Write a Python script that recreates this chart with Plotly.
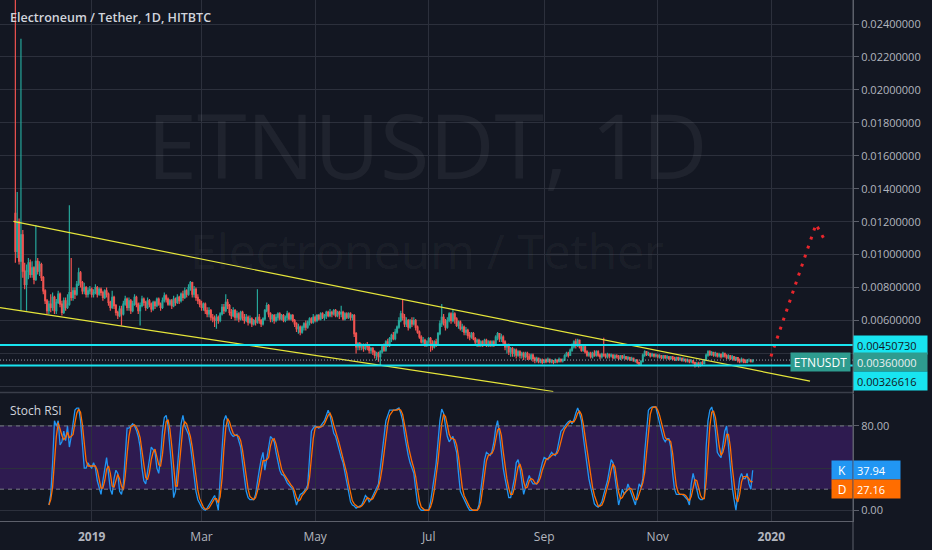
import pandas as pd
import plotly.graph_objects as go

# ---------------- data ----------------
title_text = "Electroneum / Tether, 1D, HITBTC"
symbol = "ETNUSDT"
start_date = "2018-11-21"
price_unit = 1e-5          # prices below are in units of 0.00001 USDT

first_open_e5 = 1250
close_e5 = [
    1020, 1200, 960, 1120, 900, 820, 900, 950, 880, 920,
    850, 960, 900, 940, 860, 780, 720, 660, 700, 680,
    740, 660, 710, 760, 700, 650, 720, 680, 700, 770,
    740, 780, 760, 820, 890, 830, 780, 800, 760, 780,
    790, 760, 770, 800, 760, 790, 770, 740, 780, 760,
    710, 680, 740, 690, 650, 630, 670, 640, 700, 730,
    680, 720, 660, 700, 740, 700, 660, 690, 730, 710,
    680, 720, 700, 670, 710, 690, 730, 700, 680, 720,
    750, 730, 700, 720, 690, 730, 710, 740, 720, 760,
    740, 780, 760, 800, 830, 760, 790, 740, 720, 700,
    680, 700, 660, 640, 660, 620, 610, 600, 620, 600,
    640, 680, 660, 710, 690, 650, 630, 660, 620, 640,
    610, 650, 620, 600, 620, 590, 610, 580, 600, 590,
    620, 600, 580, 610, 660, 690, 640, 610, 630, 600,
    620, 640, 610, 630, 600, 620, 640, 610, 630, 600,
    580, 550, 560, 530, 560, 580, 560, 590, 610, 590,
    620, 600, 630, 610, 640, 620, 630, 650, 630, 650,
    640, 660, 630, 650, 640, 650, 610, 640, 620, 640,
    620, 630, 520, 440, 460, 440, 450, 430, 450, 440,
    420, 430, 410, 390, 400, 380, 410, 440, 420, 470,
    450, 490, 510, 490, 530, 560, 600, 640, 620, 580,
    600, 560, 600, 580, 600, 560, 530, 500, 470, 480,
    450, 470, 490, 460, 440, 470, 460, 520, 580, 620,
    590, 560, 600, 640, 600, 640, 610, 570, 590, 550,
    560, 530, 540, 510, 500, 520, 490, 470, 480, 450,
    470, 460, 480, 460, 470, 450, 470, 460, 500, 520,
    490, 500, 470, 440, 450, 410, 430, 400, 420, 390,
    410, 390, 400, 380, 400, 380, 370, 390, 370, 360,
    370, 350, 360, 345, 360, 350, 365, 350, 355, 345,
    360, 350, 365, 355, 360, 385, 400, 390, 420, 440,
    470, 450, 480, 440, 420, 440, 410, 390, 400, 380,
    400, 390, 410, 390, 380, 395, 390, 380, 395, 385,
    390, 375, 385, 380, 370, 385, 375, 380, 370, 375,
    365, 370, 355, 360, 345, 335, 350, 390, 410, 395,
    400, 385, 395, 385, 390, 380, 385, 375, 385, 375,
    380, 370, 380, 370, 365, 375, 365, 370, 360, 365,
    355, 360, 350, 355, 345, 330, 340, 330, 345, 340,
    360, 390, 410, 395, 405, 390, 400, 385, 395, 380,
    400, 385, 375, 385, 370, 380, 365, 375, 360, 350,
    365, 355, 345, 360, 360, 350, 360,
]
high_e5 = [
    2600, 1380, 1220, 2310, 1150, 950, 940, 980, 970, 960,
    930, 1180, 980, 960, 950, 870, 790, 730, 720, 760,
    770, 750, 730, 780, 770, 720, 740, 740, 760, 1300,
    980, 800, 800, 840, 920, 900, 840, 830, 810, 800,
    810, 800, 790, 820, 810, 800, 800, 780, 790, 800,
    770, 720, 780, 750, 700, 660, 690, 690, 720, 750,
    740, 740, 730, 720, 760, 750, 710, 710, 750, 740,
    720, 740, 730, 710, 720, 720, 740, 740, 710, 740,
    770, 760, 740, 730, 730, 750, 740, 760, 750, 770,
    780, 800, 790, 820, 840, 835, 810, 800, 760, 730,
    720, 710, 710, 680, 680, 670, 640, 630, 640, 630,
    650, 700, 700, 760, 730, 700, 670, 680, 670, 660,
    650, 660, 660, 640, 640, 630, 630, 620, 610, 620,
    790, 640, 610, 620, 670, 710, 700, 650, 640, 640,
    640, 650, 650, 640, 640, 630, 660, 650, 640, 640,
    610, 590, 580, 570, 570, 590, 600, 600, 620, 620,
    640, 630, 640, 640, 650, 650, 640, 660, 660, 670,
    660, 670, 670, 660, 660, 690, 660, 650, 650, 650,
    650, 640, 640, 530, 470, 470, 460, 460, 460, 470,
    450, 440, 440, 420, 410, 410, 420, 450, 460, 480,
    490, 500, 520, 530, 550, 570, 620, 660, 730, 640,
    620, 610, 610, 620, 620, 610, 570, 540, 510, 500,
    490, 480, 500, 500, 480, 480, 490, 530, 600, 700,
    640, 610, 620, 650, 650, 670, 650, 620, 600, 600,
    580, 570, 560, 550, 530, 530, 530, 500, 490, 490,
    480, 480, 490, 490, 480, 480, 480, 480, 510, 530,
    520, 520, 510, 480, 460, 460, 440, 440, 430, 430,
    420, 420, 410, 410, 410, 410, 400, 400, 400, 380,
    380, 375, 370, 370, 365, 370, 375, 370, 365, 360,
    370, 365, 375, 370, 370, 395, 410, 410, 430, 460,
    480, 490, 490, 485, 450, 450, 450, 420, 410, 410,
    410, 420, 420, 420, 400, 405, 495, 400, 405, 400,
    400, 395, 395, 395, 390, 390, 390, 395, 385, 385,
    380, 380, 375, 365, 365, 350, 360, 400, 420, 415,
    410, 405, 405, 400, 400, 395, 395, 390, 390, 390,
    390, 385, 385, 385, 380, 380, 380, 380, 375, 375,
    370, 370, 365, 365, 360, 350, 350, 350, 350, 355,
    365, 400, 420, 420, 415, 410, 410, 405, 405, 400,
    410, 405, 395, 395, 390, 390, 385, 380, 375, 370,
    375, 370, 365, 365, 370, 365, 365,
]
low_e5 = [
    950, 980, 940, 660, 860, 790, 660, 850, 860, 860,
    820, 840, 880, 870, 840, 760, 700, 640, 640, 650,
    660, 640, 640, 700, 680, 630, 640, 660, 670, 690,
    720, 720, 730, 750, 810, 800, 760, 760, 740, 740,
    760, 740, 740, 760, 740, 750, 750, 720, 730, 740,
    690, 660, 670, 670, 630, 610, 620, 570, 630, 690,
    660, 660, 640, 650, 690, 680, 640, 570, 680, 690,
    660, 670, 680, 650, 660, 670, 680, 690, 660, 670,
    710, 710, 690, 690, 670, 680, 690, 700, 700, 710,
    720, 730, 740, 750, 780, 740, 740, 720, 700, 680,
    660, 660, 640, 620, 620, 600, 590, 560, 550, 580,
    590, 630, 640, 650, 670, 630, 610, 620, 600, 600,
    590, 600, 600, 580, 590, 570, 580, 560, 570, 570,
    580, 580, 560, 570, 600, 650, 620, 590, 590, 580,
    590, 600, 600, 600, 590, 590, 600, 600, 600, 590,
    560, 530, 520, 510, 520, 540, 540, 550, 570, 580,
    580, 590, 590, 600, 600, 610, 600, 610, 620, 620,
    620, 630, 620, 620, 610, 620, 600, 600, 610, 610,
    600, 600, 500, 400, 420, 420, 420, 410, 420, 420,
    400, 400, 390, 370, 360, 350, 327, 400, 410, 410,
    440, 440, 470, 480, 480, 520, 550, 590, 600, 560,
    560, 540, 550, 560, 570, 540, 520, 490, 460, 450,
    440, 440, 450, 410, 420, 430, 440, 450, 510, 560,
    570, 540, 550, 590, 580, 590, 580, 560, 550, 540,
    530, 510, 510, 490, 480, 490, 480, 450, 440, 440,
    440, 440, 450, 440, 440, 440, 440, 440, 450, 480,
    470, 470, 450, 420, 400, 390, 380, 380, 380, 370,
    380, 370, 370, 360, 370, 360, 360, 360, 350, 340,
    345, 340, 340, 335, 340, 340, 345, 340, 340, 335,
    340, 340, 345, 345, 345, 355, 380, 375, 385, 410,
    430, 430, 440, 430, 410, 410, 400, 380, 380, 370,
    370, 380, 380, 380, 365, 370, 380, 370, 370, 370,
    375, 365, 365, 370, 360, 360, 365, 365, 360, 360,
    355, 355, 350, 345, 335, 325, 330, 345, 380, 385,
    385, 375, 380, 375, 375, 370, 370, 365, 365, 365,
    365, 360, 360, 360, 355, 355, 355, 355, 350, 350,
    345, 345, 340, 340, 335, 315, 320, 315, 320, 330,
    335, 355, 380, 385, 385, 380, 380, 375, 375, 370,
    375, 375, 365, 365, 360, 360, 355, 355, 345, 340,
    345, 340, 340, 340, 350, 345, 345,
]

# Stoch RSI (aligned to the last candles)
stoch_k = [
    5, 15, 45, 85, 80, 85, 62, 65, 75, 66,
    80, 60, 70, 85, 95, 97, 97, 85, 60, 40,
    40, 45, 42, 40, 45, 40, 28, 20, 15, 28,
    40, 50, 35, 20, 15, 30, 38, 35, 18, 15,
    25, 55, 78, 78, 80, 82, 80, 76, 70, 60,
    40, 28, 25, 35, 48, 60, 58, 55, 40, 35,
    50, 75, 88, 90, 80, 62, 40, 12, 18, 40,
    65, 82, 90, 80, 76, 72, 62, 45, 30, 18,
    10, 6, 3, 1, 0, 2, 5, 8, 10, 14,
    8, 0, 30, 60, 85, 90, 85, 76, 72, 70,
    71, 72, 66, 60, 45, 30, 18, 12, 10, 10,
    10, 15, 28, 38, 48, 55, 38, 50, 62, 70,
    68, 65, 55, 45, 38, 34, 33, 30, 26, 24,
    22, 20, 12, 5, 10, 15, 16, 18, 20, 24,
    50, 75, 78, 80, 79, 78, 80, 82, 85, 90,
    95, 90, 80, 73, 70, 63, 56, 50, 45, 35,
    25, 15, 8, 5, 4, 2, 3, 4, 5, 9,
    14, 12, 8, 10, 14, 18, 22, 25, 40, 55,
    70, 85, 90, 95, 95, 95, 95, 96, 97, 92,
    85, 72, 60, 52, 45, 40, 35, 20, 6, 2,
    0, 0, 0, 0, 0, 8, 18, 32, 45, 65,
    85, 96, 92, 80, 70, 65, 68, 70, 62, 55,
    35, 18, 14, 10, 6, 3, 0, 0, 0, 0,
    0, 5, 20, 38, 48, 55, 53, 52, 56, 65,
    78, 85, 72, 55, 40, 30, 20, 12, 12, 20,
    30, 45, 48, 40, 25, 15, 22, 28, 33, 28,
    25, 25, 25, 30, 38, 45, 50, 49, 48, 52,
    55, 53, 52, 57, 65, 75, 77, 80, 82, 84,
    85, 82, 86, 92, 97, 92, 85, 70, 55, 40,
    30, 22, 15, 6, 4, 3, 5, 8, 15, 22,
    28, 38, 48, 45, 30, 15, 5, 12, 20, 15,
    18, 25, 20, 15, 10, 5, 15, 25, 22, 30,
    55, 80, 95, 97, 98, 98, 98, 90, 82, 75,
    68, 65, 68, 68, 60, 35, 20, 15, 15, 15,
    15, 14, 12, 10, 5, 25, 35, 28, 20, 12,
    10, 10, 12, 60, 85, 95, 98, 90, 75, 55,
    52, 50, 62, 75, 80, 60, 40, 22, 10, 0,
    15, 30, 35, 30, 30, 35, 25, 20, 37.94,
]
stoch_d = [
    5, 10, 22, 48, 70, 83, 76, 71, 67, 69,
    74, 69, 70, 72, 83, 92, 96, 93, 81, 62,
    47, 42, 42, 42, 42, 42, 38, 29, 21, 21,
    28, 39, 42, 35, 23, 22, 28, 34, 30, 23,
    19, 32, 53, 70, 79, 80, 81, 79, 75, 69,
    57, 43, 31, 29, 36, 48, 55, 58, 51, 43,
    42, 53, 71, 84, 86, 77, 61, 38, 23, 23,
    41, 62, 79, 84, 82, 76, 70, 60, 46, 31,
    19, 11, 6, 3, 1, 1, 2, 5, 8, 11,
    11, 7, 13, 30, 58, 78, 87, 84, 78, 73,
    71, 71, 70, 66, 57, 45, 31, 20, 13, 11,
    10, 12, 18, 27, 38, 47, 47, 48, 50, 61,
    67, 68, 63, 55, 46, 39, 35, 32, 30, 27,
    24, 22, 18, 12, 9, 10, 14, 16, 18, 21,
    31, 50, 68, 78, 79, 79, 79, 80, 82, 86,
    90, 92, 88, 81, 74, 69, 63, 56, 50, 43,
    35, 25, 16, 9, 6, 4, 3, 3, 4, 6,
    9, 12, 11, 10, 11, 14, 18, 22, 29, 40,
    55, 70, 82, 90, 93, 95, 95, 95, 96, 95,
    91, 83, 72, 61, 52, 46, 40, 32, 20, 9,
    3, 1, 0, 0, 0, 3, 9, 19, 32, 47,
    65, 82, 91, 89, 81, 72, 68, 68, 67, 62,
    51, 36, 22, 14, 10, 6, 3, 1, 0, 0,
    0, 2, 8, 21, 35, 47, 52, 53, 54, 58,
    66, 76, 78, 71, 56, 42, 30, 21, 15, 15,
    21, 32, 41, 44, 38, 27, 21, 22, 28, 30,
    29, 26, 25, 27, 31, 38, 44, 48, 49, 50,
    52, 53, 53, 54, 58, 66, 72, 77, 80, 82,
    84, 84, 84, 87, 92, 94, 91, 82, 70, 55,
    42, 31, 22, 14, 8, 4, 4, 5, 9, 15,
    22, 29, 38, 44, 41, 30, 17, 11, 12, 16,
    18, 19, 21, 20, 15, 10, 10, 15, 21, 26,
    36, 55, 77, 91, 97, 98, 98, 95, 90, 82,
    75, 69, 67, 67, 65, 54, 38, 23, 17, 15,
    15, 15, 14, 12, 9, 13, 22, 29, 28, 20,
    14, 11, 11, 27, 52, 80, 93, 94, 88, 73,
    61, 52, 55, 62, 72, 72, 60, 41, 24, 11,
    8, 15, 27, 32, 32, 32, 30, 27, 27.16,
]

month_ticks = ["2019-01-01", "2019-03-01", "2019-05-01", "2019-07-01",
               "2019-09-01", "2019-11-01", "2020-01-01"]
month_labels = ["<b>2019</b>", "Mar", "May", "Jul", "Sep", "Nov", "<b>2020</b>"]
price_ticks = [0.002, 0.004, 0.006, 0.008, 0.010, 0.012, 0.014, 0.016,
               0.018, 0.020, 0.022, 0.024]
hidden_price_ticks = [0.002, 0.004]
stoch_ticks = [0, 40, 80]
stoch_labels = ["0.00", "", "80.00"]
stoch_band = [20, 80]

resistance_level = 0.00450730
support_level = 0.00326616

trend_upper_dates = ["2018-11-19 22:00", "2020-01-21 19:00"]
trend_upper_prices = [0.012024, 0.002316]
trend_lower_dates = ["2018-11-12 18:00", "2019-09-05 22:00"]
trend_lower_prices = [0.006778, 0.00169]
projection_dates = ["2019-12-31 19:00", "2020-01-25 00:00", "2020-01-30 08:00"]
projection_prices = [0.003818, 0.011842, 0.010748]

x_range = ["2018-11-12 18:00", "2020-02-13 21:00"]
price_range = [0.00163, 0.02546]
stoch_range = [-10.2, 110.8]

# ---------------- styling ----------------
BG = "#131722"
GRID = "#2c303c"
AXIS = "#5d606b"
TXT = "#b2b5be"
UP = "#26a69a"
DOWN = "#ef5350"
CYAN = "#18e4f0"
TEAL_LBL = "#2e9c8f"
FONT = "Open Sans"

PW, PH = 853.0, 521.0
def px(x):
    return x / PW
def py(y):
    return 1 - y / PH

MAIN_BOTTOM = 392.5

# ---------------- build ----------------
n = min(len(close_e5), len(high_e5), len(low_e5))
closes = [v * price_unit for v in close_e5[:n]]
highs = [v * price_unit for v in high_e5[:n]]
lows = [v * price_unit for v in low_e5[:n]]
opens = [first_open_e5 * price_unit] + closes[:-1]
dates = pd.date_range(start_date, periods=n, freq="D")

def align(series):
    s = list(series)[-n:]
    return [None] * (n - len(s)) + s

k_vals = align(stoch_k)
d_vals = align(stoch_d)

fig = go.Figure()

fig.add_trace(go.Candlestick(
    x=dates, open=opens, high=highs, low=lows, close=closes,
    increasing=dict(line=dict(color=UP, width=1.2), fillcolor=UP),
    decreasing=dict(line=dict(color=DOWN, width=1.2), fillcolor=DOWN),
    whiskerwidth=0, hoverinfo="skip", xaxis="x", yaxis="y",
))

fig.add_trace(go.Scatter(x=trend_upper_dates, y=trend_upper_prices, mode="lines",
                         line=dict(color="#e6e63a", width=1.2), hoverinfo="skip",
                         xaxis="x", yaxis="y"))
fig.add_trace(go.Scatter(x=trend_lower_dates, y=trend_lower_prices, mode="lines",
                         line=dict(color="#e6e63a", width=1.2), hoverinfo="skip",
                         xaxis="x", yaxis="y"))
fig.add_trace(go.Scatter(x=projection_dates, y=projection_prices, mode="lines",
                         line=dict(color="#e8262c", width=3, dash="3px,6.5px"),
                         hoverinfo="skip", xaxis="x", yaxis="y"))

fig.add_trace(go.Scatter(x=dates, y=k_vals, mode="lines",
                         line=dict(color="#2196f3", width=1.3), hoverinfo="skip",
                         connectgaps=False, xaxis="x2", yaxis="y2"))
fig.add_trace(go.Scatter(x=dates, y=d_vals, mode="lines",
                         line=dict(color="#ff6d00", width=1.3), hoverinfo="skip",
                         connectgaps=False, xaxis="x2", yaxis="y2"))

shapes = []
# stoch band
shapes.append(dict(type="rect", xref="paper", yref="y2", x0=0, x1=1,
                   y0=stoch_band[0], y1=stoch_band[1],
                   fillcolor="rgba(126,40,220,0.25)", line=dict(width=0), layer="below"))
for lvl in stoch_band:
    shapes.append(dict(type="line", xref="paper", yref="y2", x0=0, x1=1, y0=lvl, y1=lvl,
                       line=dict(color="#787b86", width=1, dash="4px,4px")))
# horizontal levels
for lvl in (resistance_level, support_level):
    shapes.append(dict(type="line", xref="paper", yref="y", x0=0, x1=1, y0=lvl, y1=lvl,
                       line=dict(color=CYAN, width=2)))
# current price dotted line
shapes.append(dict(type="line", xref="paper", yref="y", x0=0, x1=1,
                   y0=closes[-1], y1=closes[-1],
                   line=dict(color="#9ea2ad", width=1, dash="1px,2px")))
# pane separator
shapes.append(dict(type="line", xref="paper", yref="paper", x0=0, x1=1,
                   y0=py(MAIN_BOTTOM), y1=py(MAIN_BOTTOM),
                   line=dict(color="#3a3e4a", width=1.5)))
# right price-scale border (full height)
shapes.append(dict(type="line", xref="paper", yref="paper", x0=1, x1=1,
                   y0=py(550), y1=1, line=dict(color=AXIS, width=1)))

def fmt(v):
    return f"{v:.8f}"

annotations = []
# watermark
annotations.append(dict(text=f"{symbol}, 1D", xref="paper", yref="paper",
                        x=px(427), y=py(144), xanchor="center", yanchor="middle",
                        showarrow=False,
                        font=dict(family=FONT, size=90, color="rgba(255,255,255,0.055)")))
annotations.append(dict(text="Electroneum / Tether", xref="paper", yref="paper",
                        x=px(427), y=py(250), xanchor="center", yanchor="middle",
                        showarrow=False,
                        font=dict(family=FONT, size=48, color="rgba(255,255,255,0.055)")))
# titles
annotations.append(dict(text=title_text, xref="paper", yref="paper", x=px(8), y=py(17),
                        xanchor="left", yanchor="middle", showarrow=False,
                        font=dict(family=FONT, size=12.5, color="#d1d4dc", weight=600)))
annotations.append(dict(text="Stoch RSI", xref="paper", yref="paper", x=px(8), y=py(410),
                        xanchor="left", yanchor="middle", showarrow=False,
                        font=dict(family=FONT, size=12, color="#d1d4dc")))

def price_label(val, bg, fg, yshift=0, text=None):
    return dict(text=text if text else fmt(val), xref="paper", yref="y", x=1, y=val,
                xanchor="left", yanchor="middle", showarrow=False, yshift=yshift,
                bgcolor=bg, width=67, height=12, borderpad=3, align="left",
                font=dict(family=FONT, size=11, color=fg))

annotations.append(price_label(resistance_level, CYAN, "#131722"))
annotations.append(price_label(closes[-1], TEAL_LBL, "#e9eef0", yshift=-2))
annotations.append(price_label(support_level, CYAN, "#131722", yshift=-15))
annotations.append(dict(text=symbol, xref="paper", yref="y", x=1, y=closes[-1],
                        xanchor="right", yanchor="middle", xshift=-2.5, yshift=-2,
                        showarrow=False, bgcolor=TEAL_LBL, width=53, height=12,
                        borderpad=3, font=dict(family=FONT, size=12, color="#ffffff")))

k_last, d_last = stoch_k[-1], stoch_d[-1]
for name, val, col, ys in (("K", k_last, "#2196f3", 0), ("D", d_last, "#ff6d00", -7)):
    annotations.append(dict(text=name, xref="paper", yref="y2", x=1, y=val,
                            xanchor="right", yanchor="middle", yshift=ys, showarrow=False,
                            bgcolor=col, width=14, height=12, borderpad=3,
                            font=dict(family=FONT, size=12, color="#ffffff")))
    annotations.append(dict(text=f"{val:.2f}", xref="paper", yref="y2", x=1, y=val,
                            xanchor="left", yanchor="middle", yshift=ys, showarrow=False,
                            bgcolor=col, width=40, height=12, borderpad=3, align="left",
                            font=dict(family=FONT, size=11, color="#ffffff")))

price_text = ["" if t in hidden_price_ticks else fmt(t) for t in price_ticks]

fig.update_layout(
    width=932, height=550,
    margin=dict(l=0, r=79, t=0, b=29),
    paper_bgcolor=BG, plot_bgcolor=BG,
    showlegend=False, hovermode=False,
    shapes=shapes, annotations=annotations,
    xaxis=dict(domain=[0, 1], anchor="y", type="date", range=x_range,
               tickvals=month_ticks, showticklabels=False, showgrid=True,
               gridcolor=GRID, gridwidth=1, zeroline=False, showline=False,
               rangeslider=dict(visible=False), fixedrange=True),
    yaxis=dict(domain=[py(MAIN_BOTTOM), 1], side="right", range=price_range,
               tickvals=price_ticks, ticktext=price_text, showgrid=True,
               gridcolor=GRID, zeroline=False, showline=True, linecolor=AXIS,
               ticks="outside", ticklen=5, tickcolor=AXIS,
               tickfont=dict(family=FONT, size=11, color=TXT), fixedrange=True),
    xaxis2=dict(domain=[0, 1], anchor="y2", type="date", range=x_range,
                matches="x", tickvals=month_ticks, ticktext=month_labels,
                showgrid=True, gridcolor=GRID, zeroline=False, showline=True,
                linecolor=AXIS, ticks="outside", ticklen=5, tickcolor=BG,
                tickfont=dict(family=FONT, size=12, color=TXT),
                rangeslider=dict(visible=False), fixedrange=True),
    yaxis2=dict(domain=[0, py(MAIN_BOTTOM + 1)], side="right", range=stoch_range,
                tickvals=stoch_ticks, ticktext=stoch_labels, showgrid=True,
                gridcolor=GRID, zeroline=False, showline=True, linecolor=AXIS,
                ticks="outside", ticklen=5, tickcolor=AXIS,
                tickfont=dict(family=FONT, size=11, color=TXT), fixedrange=True),
)

fig.write_html(
    "out.html",
    config={"displayModeBar": False, "staticPlot": True},
    post_script="document.body.style.margin='0';document.body.style.overflow='hidden';",
)
